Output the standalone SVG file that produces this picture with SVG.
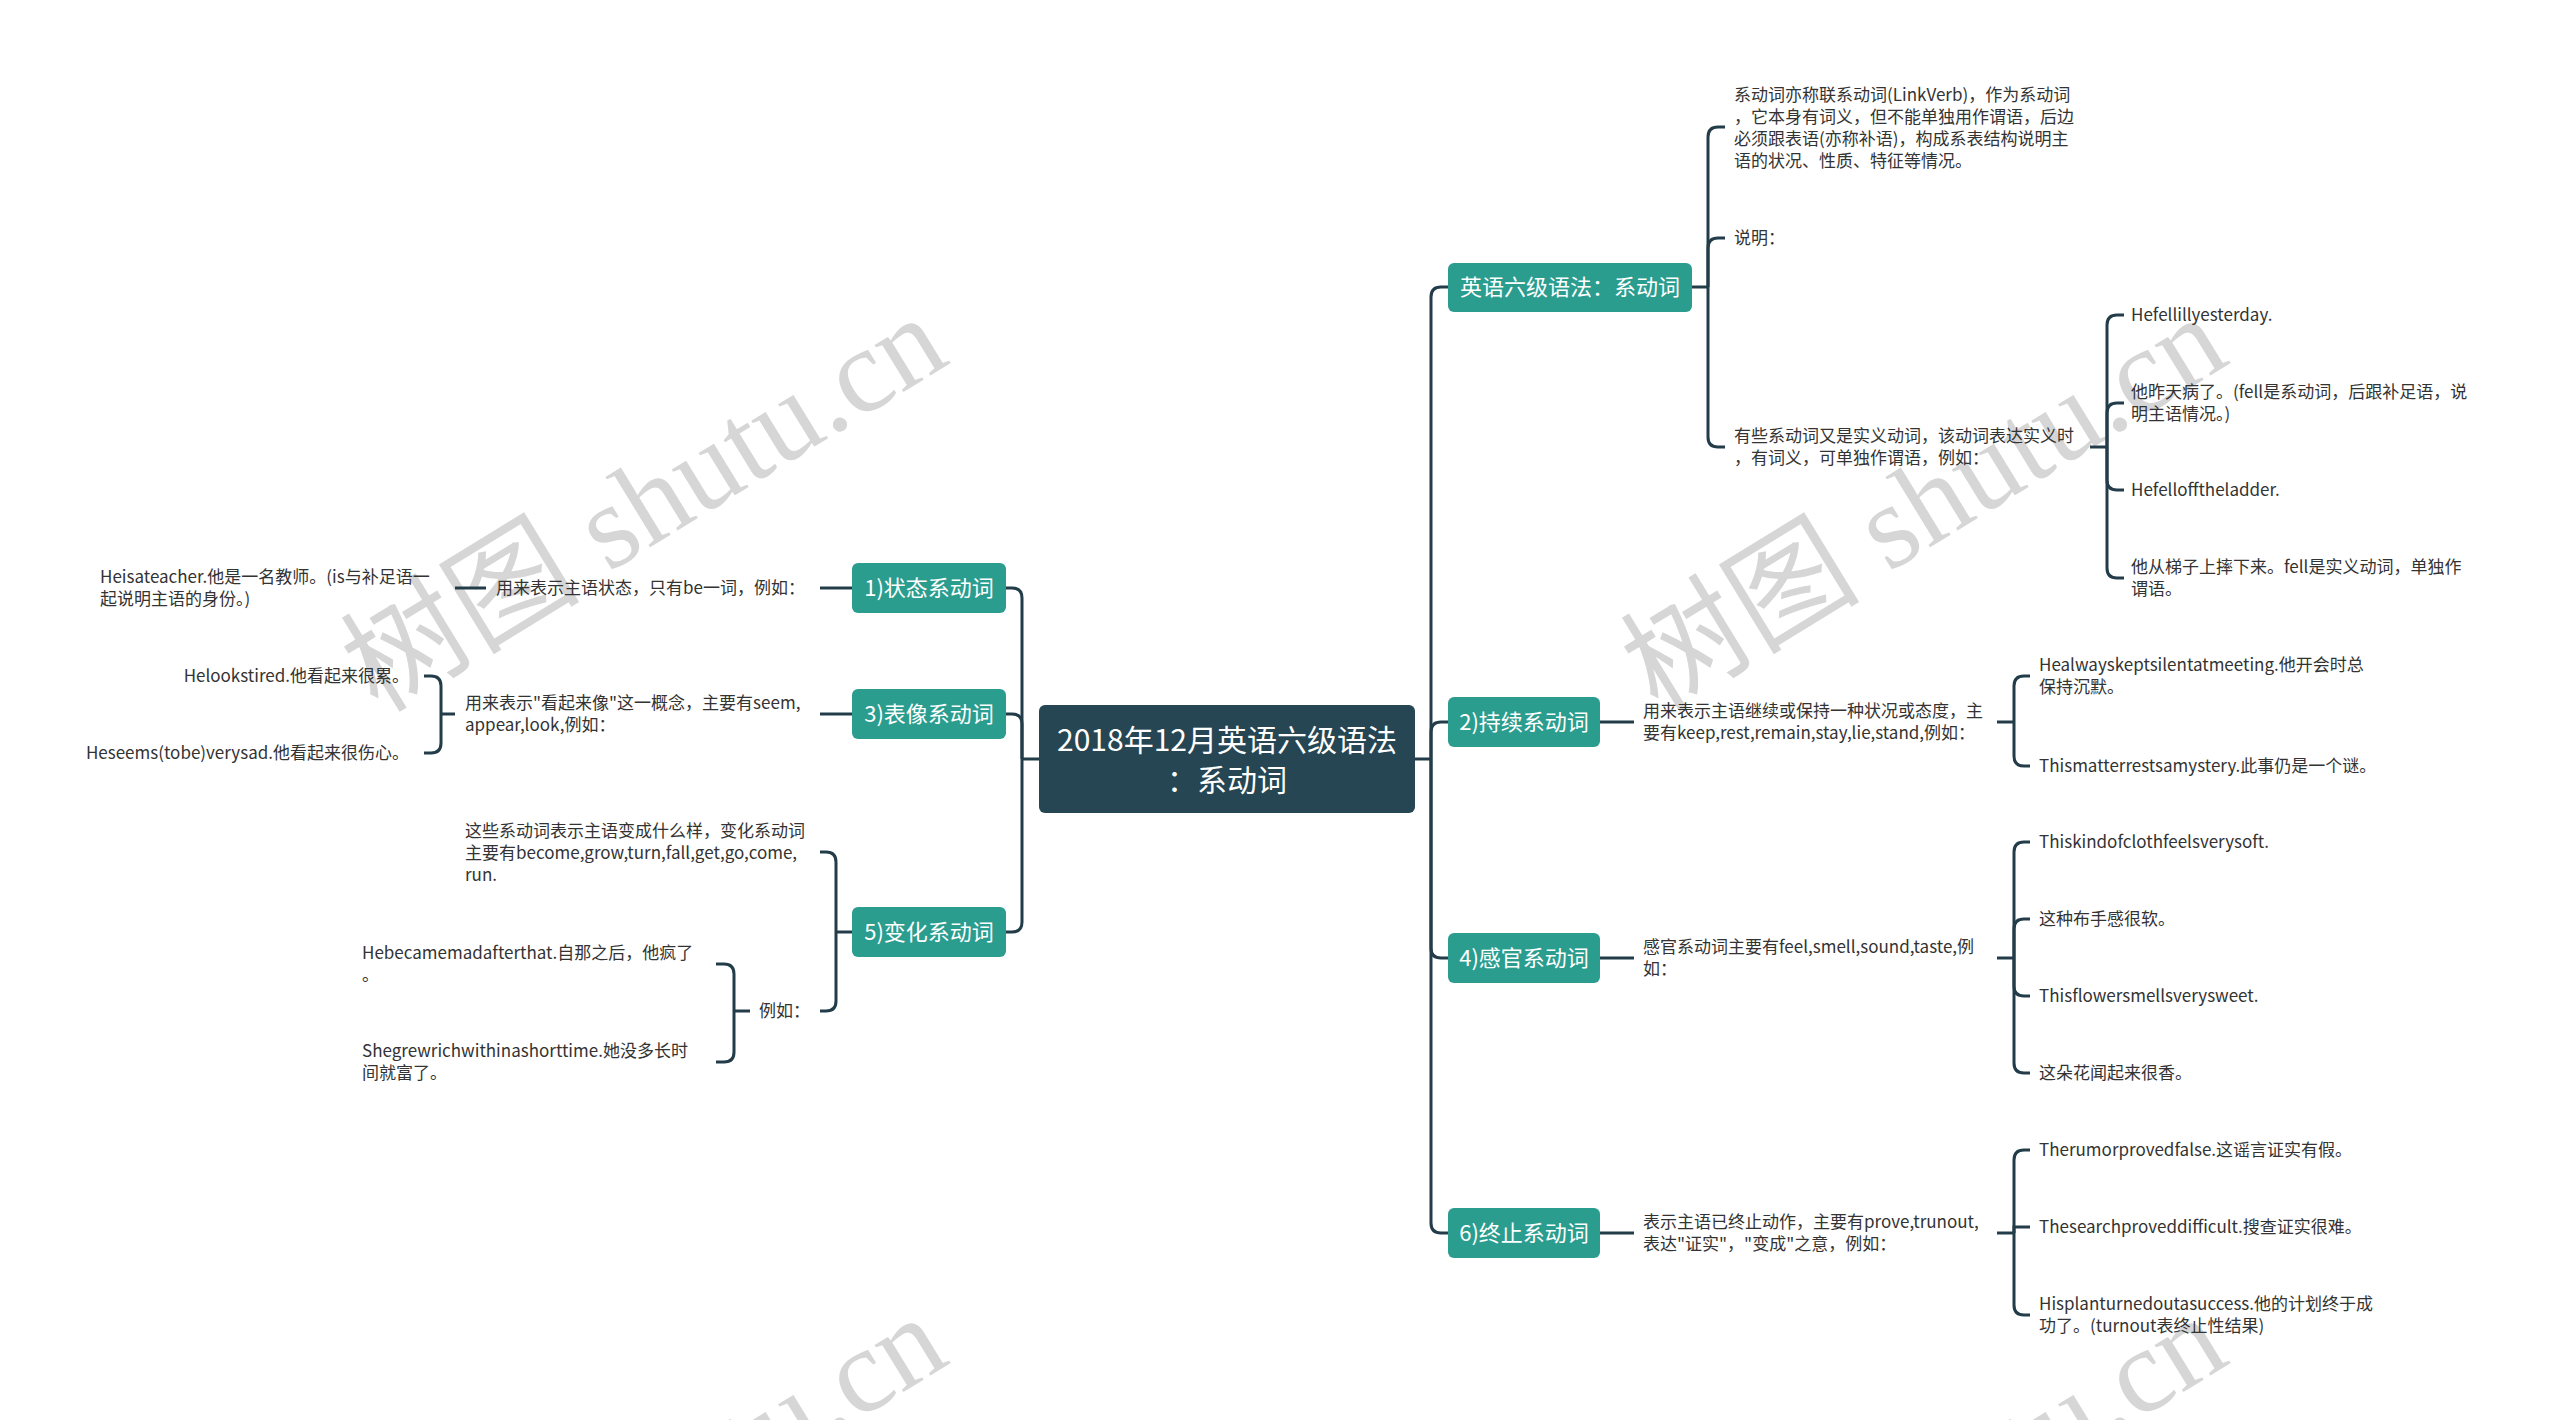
<svg xmlns="http://www.w3.org/2000/svg" width="2560" height="1420" viewBox="0 0 2560 1420">
<style>
.wm{font-family:"Liberation Serif","Noto Sans CJK SC",serif;font-size:120px;fill:#d6d6d6}
.ln{fill:none;stroke:#223d49;stroke-width:3}
.nb{fill:#2a9d8f}
.nt{font-family:"Noto Sans CJK SC",sans-serif;font-size:22px;fill:#ffffff;text-anchor:middle}
.ct{font-family:"Noto Sans CJK SC",sans-serif;font-size:30px;fill:#ffffff;text-anchor:middle}
.lt{font-family:"Noto Sans CJK SC",sans-serif;font-size:17px;fill:#333333}
.le{font-family:"Noto Sans CJK SC",sans-serif;font-size:17px;fill:#333333;text-anchor:end}
</style>
<rect width="2560" height="1420" fill="#ffffff"/>
<g id="watermarks">
<text class="wm" transform="translate(378,714) rotate(-31.5)">树图 shutu.cn</text>
<text class="wm" transform="translate(1658,714) rotate(-31.5)">树图 shutu.cn</text>
<text class="wm" transform="translate(378,1714) rotate(-31.5)">树图 shutu.cn</text>
<text class="wm" transform="translate(1658,1714) rotate(-31.5)">树图 shutu.cn</text>
</g>
<g id="connectors" class="ln">
<path d="M1415,759H1431"/>
<path d="M1431,759V297Q1431,287 1441,287H1448"/>
<path d="M1431,759V732Q1431,722 1441,722H1448"/>
<path d="M1431,759V948Q1431,958 1441,958H1448"/>
<path d="M1431,759V1223Q1431,1233 1441,1233H1448"/>
<path d="M1039,759H1022"/>
<path d="M1022,759V598Q1022,588 1012,588H1006"/>
<path d="M1022,759V724Q1022,714 1012,714H1006"/>
<path d="M1022,759V922Q1022,932 1012,932H1006"/>
<path d="M1692,287H1708"/>
<path d="M1708,287V137Q1708,127 1718,127H1725"/>
<path d="M1708,287V248Q1708,238 1718,238H1725"/>
<path d="M1708,287V437Q1708,447 1718,447H1725"/>
<path d="M2090,447H2107"/>
<path d="M2107,447V325Q2107,315 2117,315H2124"/>
<path d="M2107,447V413Q2107,403 2117,403H2124"/>
<path d="M2107,447V480Q2107,490 2117,490H2124"/>
<path d="M2107,447V568Q2107,578 2117,578H2124"/>
<path d="M1600,722H1634"/>
<path d="M1997,722H2014"/>
<path d="M2014,722V686Q2014,676 2024,676H2030"/>
<path d="M2014,722V756Q2014,766 2024,766H2030"/>
<path d="M1600,958H1634"/>
<path d="M1997,958H2014"/>
<path d="M2014,958V852Q2014,842 2024,842H2030"/>
<path d="M2014,958V929Q2014,919 2024,919H2030"/>
<path d="M2014,958V986Q2014,996 2024,996H2030"/>
<path d="M2014,958V1063Q2014,1073 2024,1073H2030"/>
<path d="M1600,1233H1634"/>
<path d="M1997,1233H2014"/>
<path d="M2014,1233V1160Q2014,1150 2024,1150H2030"/>
<path d="M2014,1233V1227H2030"/>
<path d="M2014,1233V1305Q2014,1315 2024,1315H2030"/>
<path d="M852,588H820"/>
<path d="M486,588H455"/>
<path d="M852,714H820"/>
<path d="M455,714H441"/>
<path d="M441,714V686Q441,676 431,676H424"/>
<path d="M441,714V743Q441,753 431,753H424"/>
<path d="M852,932H836"/>
<path d="M836,932V862Q836,852 826,852H820"/>
<path d="M836,932V1001Q836,1011 826,1011H820"/>
<path d="M750,1011H734"/>
<path d="M734,1011V974Q734,964 724,964H716"/>
<path d="M734,1011V1052Q734,1062 724,1062H716"/>
</g>
<g id="root">
<rect x="1039" y="705" width="376" height="108" rx="6" fill="#264653"/>
<text class="ct" x="1227" y="751">2018年12月英语六级语法</text>
<text class="ct" x="1227" y="791">：系动词</text>
</g>
<g id="n-r0"><rect class="nb" x="1448" y="263" width="244" height="49" rx="6"/><text class="nt" x="1570" y="295">英语六级语法：系动词</text></g>
<g id="n-r2"><rect class="nb" x="1448" y="697" width="152" height="50" rx="6"/><text class="nt" x="1524" y="730">2)持续系动词</text></g>
<g id="n-r4"><rect class="nb" x="1448" y="933" width="152" height="50" rx="6"/><text class="nt" x="1524" y="966">4)感官系动词</text></g>
<g id="n-r6"><rect class="nb" x="1448" y="1208" width="152" height="50" rx="6"/><text class="nt" x="1524" y="1241">6)终止系动词</text></g>
<g id="n-l1"><rect class="nb" x="852" y="563" width="154" height="50" rx="6"/><text class="nt" x="929" y="596">1)状态系动词</text></g>
<g id="n-l3"><rect class="nb" x="852" y="689" width="154" height="50" rx="6"/><text class="nt" x="929" y="722">3)表像系动词</text></g>
<g id="n-l5"><rect class="nb" x="852" y="907" width="154" height="50" rx="6"/><text class="nt" x="929" y="940">5)变化系动词</text></g>
<g id="leaf-a"><text class="lt" x="1734" y="101">系动词亦称联系动词(LinkVerb)，作为系动词</text><text class="lt" x="1734" y="123">，它本身有词义，但不能单独用作谓语，后边</text><text class="lt" x="1734" y="145">必须跟表语(亦称补语)，构成系表结构说明主</text><text class="lt" x="1734" y="167">语的状况、性质、特征等情况。</text></g>
<g id="leaf-b"><text class="lt" x="1734" y="244">说明：</text></g>
<g id="leaf-c"><text class="lt" x="1734" y="442">有些系动词又是实义动词，该动词表达实义时</text><text class="lt" x="1734" y="464">，有词义，可单独作谓语，例如：</text></g>
<g id="leaf-c1"><text class="lt" x="2131" y="321">Hefellillyesterday.</text></g>
<g id="leaf-c2"><text class="lt" x="2131" y="398">他昨天病了。(fell是系动词，后跟补足语，说</text><text class="lt" x="2131" y="420">明主语情况。)</text></g>
<g id="leaf-c3"><text class="lt" x="2131" y="496">Hefellofftheladder.</text></g>
<g id="leaf-c4"><text class="lt" x="2131" y="573">他从梯子上摔下来。fell是实义动词，单独作</text><text class="lt" x="2131" y="595">谓语。</text></g>
<g id="leaf-2"><text class="lt" x="1643" y="717">用来表示主语继续或保持一种状况或态度，主</text><text class="lt" x="1643" y="739">要有keep,rest,remain,stay,lie,stand,例如：</text></g>
<g id="leaf-2a"><text class="lt" x="2039" y="671">Healwayskeptsilentatmeeting.他开会时总</text><text class="lt" x="2039" y="693">保持沉默。</text></g>
<g id="leaf-2b"><text class="lt" x="2039" y="772">Thismatterrestsamystery.此事仍是一个谜。</text></g>
<g id="leaf-4"><text class="lt" x="1643" y="953">感官系动词主要有feel,smell,sound,taste,例</text><text class="lt" x="1643" y="975">如：</text></g>
<g id="leaf-4a"><text class="lt" x="2039" y="848">Thiskindofclothfeelsverysoft.</text></g>
<g id="leaf-4b"><text class="lt" x="2039" y="925">这种布手感很软。</text></g>
<g id="leaf-4c"><text class="lt" x="2039" y="1002">Thisflowersmellsverysweet.</text></g>
<g id="leaf-4d"><text class="lt" x="2039" y="1079">这朵花闻起来很香。</text></g>
<g id="leaf-6"><text class="lt" x="1643" y="1228">表示主语已终止动作，主要有prove,trunout,</text><text class="lt" x="1643" y="1250">表达"证实"，"变成"之意，例如：</text></g>
<g id="leaf-6a"><text class="lt" x="2039" y="1156">Therumorprovedfalse.这谣言证实有假。</text></g>
<g id="leaf-6b"><text class="lt" x="2039" y="1233">Thesearchproveddifficult.搜查证实很难。</text></g>
<g id="leaf-6c"><text class="lt" x="2039" y="1310">Hisplanturnedoutasuccess.他的计划终于成</text><text class="lt" x="2039" y="1332">功了。(turnout表终止性结果)</text></g>
<g id="leaf-1"><text class="lt" x="496" y="594">用来表示主语状态，只有be一词，例如：</text></g>
<g id="leaf-1a"><text class="lt" x="100" y="583">Heisateacher.他是一名教师。(is与补足语一</text><text class="lt" x="100" y="605">起说明主语的身份。)</text></g>
<g id="leaf-3"><text class="lt" x="465" y="709">用来表示"看起来像"这一概念，主要有seem,</text><text class="lt" x="465" y="731">appear,look,例如：</text></g>
<g id="leaf-3a"><text class="le" x="409" y="682">Helookstired.他看起来很累。</text></g>
<g id="leaf-3b"><text class="le" x="409" y="759">Heseems(tobe)verysad.他看起来很伤心。</text></g>
<g id="leaf-5a"><text class="lt" x="465" y="837">这些系动词表示主语变成什么样，变化系动词</text><text class="lt" x="465" y="859">主要有become,grow,turn,fall,get,go,come,</text><text class="lt" x="465" y="881">run.</text></g>
<g id="leaf-5b"><text class="lt" x="759" y="1017">例如：</text></g>
<g id="leaf-5b1"><text class="lt" x="362" y="959">Hebecamemadafterthat.自那之后，他疯了</text><text class="lt" x="362" y="981">。</text></g>
<g id="leaf-5b2"><text class="lt" x="362" y="1057">Shegrewrichwithinashorttime.她没多长时</text><text class="lt" x="362" y="1079">间就富了。</text></g>
</svg>
